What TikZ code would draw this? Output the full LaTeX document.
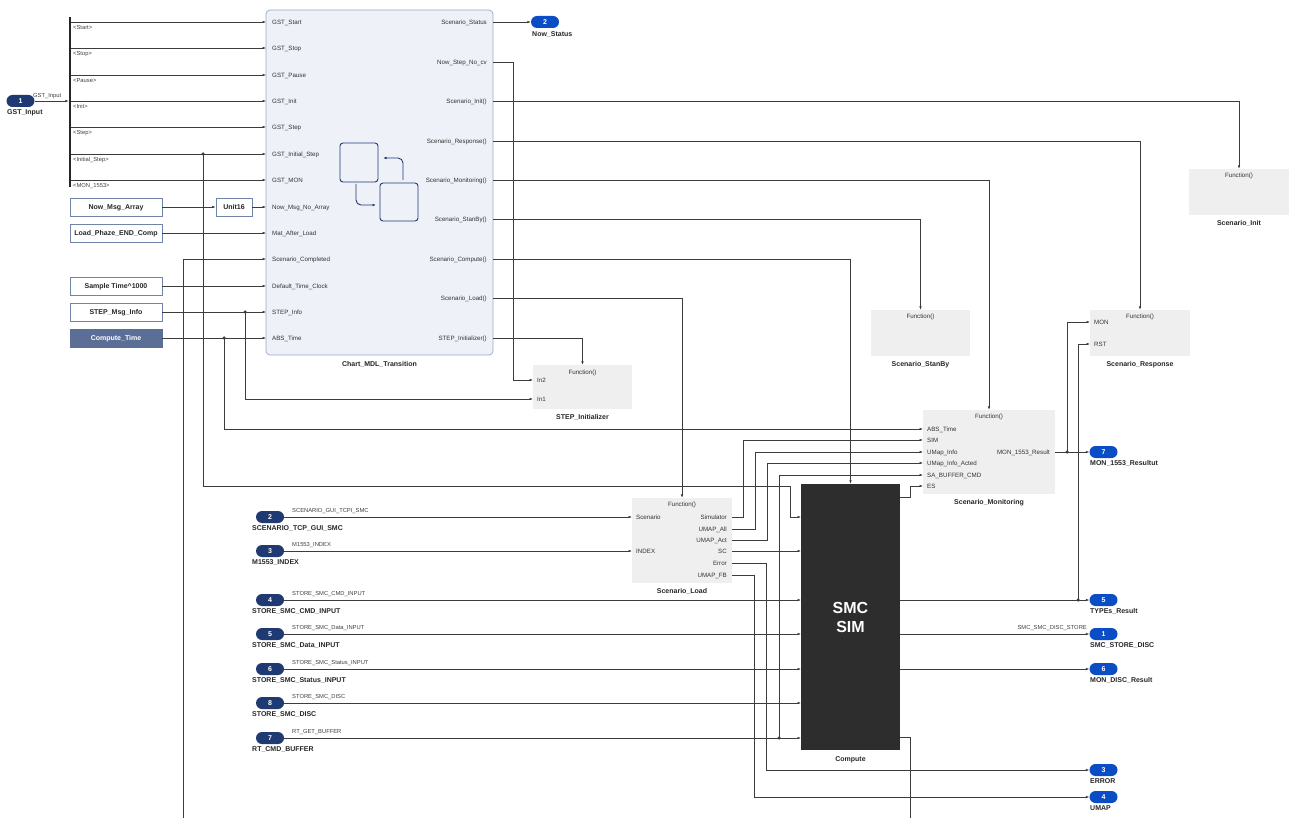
\documentclass[tikz,border=0pt]{standalone}
\usepackage{fontspec}
\setmainfont{Liberation Sans}
\usetikzlibrary{arrows.meta,positioning,calc}

\definecolor{wirecol}{HTML}{3C3C3C}
\definecolor{navy}{HTML}{1F3A73}
\definecolor{outblue}{HTML}{0B4DC4}
\definecolor{chartfill}{HTML}{EEF1F8}
\definecolor{chartedge}{HTML}{9AA7C7}
\definecolor{fngray}{HTML}{EFEFEF}
\definecolor{boxedge}{HTML}{7183A8}
\definecolor{slate}{HTML}{5B6F96}
\definecolor{smcdark}{HTML}{2D2D2D}

\tikzset{
  wire/.style={draw=wirecol, line width=0.6pt},
  arr/.style={-{Latex[length=3.5pt,width=2.6pt]}},
  portlbl/.style={font=\fontsize{6.2}{7}\selectfont, text=black!80, inner sep=0pt},
  siglbl/.style={font=\fontsize{5.8}{7}\selectfont, text=black!75, inner sep=0pt},
  blklbl/.style={font=\fontsize{7}{8}\selectfont\bfseries, text=black!85, inner sep=0pt},
  fnbox/.style={fill=fngray, draw=none, inner sep=0pt},
  fnhead/.style={portlbl, anchor=mid},
  srcbox/.style={draw=boxedge, line width=0.8pt, fill=white, minimum width=92pt,
    minimum height=18pt, font=\fontsize{7}{8}\selectfont\bfseries, text=black!85, inner sep=0pt,
    text height=5pt, text depth=0pt},
  inpill/.style={fill=navy, rounded corners=6pt, minimum width=28pt, minimum height=12pt,
    inner sep=0pt, text=white, font=\fontsize{7}{8}\selectfont\bfseries,
    text height=5pt, text depth=0pt},
  outpill/.style={inpill, fill=outblue},
  dot/.style={circle, fill=wirecol, inner sep=0pt, minimum size=3.5pt},
  icon/.style={draw=navy, line width=0.9pt}
}

\begin{document}
\begin{tikzpicture}[x=1pt,y=-1pt]
\useasboundingbox (0,0) rectangle (1296,818);

% chart block
\node[draw=chartedge, fill=chartfill, rounded corners=4pt, line width=0.7pt,
  minimum width=227pt, minimum height=345pt] (chart) at (379.5,182.5) {};
\node[blklbl, below=6pt of chart] {Chart\_MDL\_Transition};
\draw[icon, rounded corners=3pt] (340,143) rectangle (378,182);
\draw[icon, rounded corners=3pt] (380,183) rectangle (418,221);
\draw[icon, arr, rounded corners=5pt] (403,180) |- (383,158);
\draw[icon, arr, rounded corners=5pt] (356,184) |- (376,205);

\foreach \y/\t [count=\i] in {22/GST\_Start, 48/GST\_Stop, 75/GST\_Pause, 101/GST\_Init,
  127/GST\_Step, 154/GST\_Initial\_Step, 180/GST\_MON, 207/Now\_Msg\_No\_Array,
  233/Mat\_After\_Load, 259/Scenario\_Completed, 286/Default\_Time\_Clock,
  312/STEP\_Info, 338/ABS\_Time} {
  \coordinate (cin\i) at (266,\y);
  \node[portlbl, anchor=mid west] at (272,\y) {\t};
}
\foreach \y/\t [count=\i] in {22/Scenario\_Status, 62/Now\_Step\_No\_cv, 101/Scenario\_Init(),
  141/Scenario\_Response(), 180/Scenario\_Monitoring(), 219/Scenario\_StanBy(),
  259/Scenario\_Compute(), 298/Scenario\_Load(), 338/STEP\_Initializer()} {
  \coordinate (cout\i) at (493,\y);
  \node[portlbl, anchor=mid east] at (487,\y) {\t};
}

% GST input and bus
\node[inpill] (inGST) at (20.5,101) {1};
\node[blklbl, anchor=north west] at (7,109.5) {GST\_Input};
\node[fill=black!85, minimum width=2pt, minimum height=170pt, inner sep=0pt] (bus) at (70,102) {};
\draw[wire, arr] (inGST) -- (bus.west |- inGST);
\node[siglbl, anchor=base west] at (33,97.5) {GST\_Input};
\foreach \y/\t [count=\i] in {22/Start, 48/Stop, 75/Pause, 101/Init, 127/Step,
  154/Initial\_Step, 180/MON\_1553} {
  \draw[wire, arr] (bus.east |- cin\i) -- (cin\i);
  \node[siglbl, anchor=north west] at (73,\y+3.5) {<\t>};
}

% source blocks
\node[srcbox] (nowmsg) at (116,207) {Now\_Msg\_Array};
\node[srcbox, minimum width=36pt] (unit) at (234,207) {Unit16};
\node[srcbox] (loadphz) at (116,233) {Load\_Phaze\_END\_Comp};
\node[srcbox] (samptime) at (116,286) {Sample Time\textasciicircum 1000};
\node[srcbox] (stepmsg) at (116,312) {STEP\_Msg\_Info};
\node[srcbox, fill=slate, draw=slate, text=white] (comptime) at (116,338) {Compute\_Time};
\draw[wire, arr] (nowmsg) -- (unit);
\draw[wire, arr] (unit) -- (cin8);
\draw[wire, arr] (loadphz) -- (cin9);
\draw[wire, arr] (samptime) -- (cin11);
\draw[wire, arr] (stepmsg) -- (cin12);
\draw[wire, arr] (comptime) -- (cin13);
\coordinate (fbLow) at (183,818);
\draw[wire, arr] (fbLow) |- (cin10);

% function blocks
\node[fnbox, minimum width=99pt, minimum height=44pt] (stepini) at (582.5,387) {};
\node[fnhead] at ([yshift=-7pt]stepini.north) {Function()};
\node[blklbl, below=5pt of stepini] {STEP\_Initializer};
\coordinate (stIn2) at (533,380);
\coordinate (stIn1) at (533,399);
\node[portlbl, anchor=mid west] at (537,380) {In2};
\node[portlbl, anchor=mid west] at (537,399) {In1};

\node[fnbox, minimum width=99pt, minimum height=46pt] (stanby) at (920.5,333) {};
\node[fnhead] at ([yshift=-6.5pt]stanby.north) {Function()};
\node[blklbl, below=5.5pt of stanby] {Scenario\_StanBy};

\node[fnbox, minimum width=100pt, minimum height=46pt] (resp) at (1140,333) {};
\node[fnhead] at ([yshift=-6.5pt]resp.north) {Function()};
\node[blklbl, below=5.5pt of resp] {Scenario\_Response};
\coordinate (rsMON) at (1090,322);
\coordinate (rsRST) at (1090,344);
\node[portlbl, anchor=mid west] at (1094,322) {MON};
\node[portlbl, anchor=mid west] at (1094,344) {RST};

\node[fnbox, minimum width=100pt, minimum height=46pt] (init) at (1239,192) {};
\node[fnhead] at ([yshift=-6.5pt]init.north) {Function()};
\node[blklbl, below=5.5pt of init] {Scenario\_Init};

\node[fnbox, minimum width=132pt, minimum height=84pt] (mon) at (989,452) {};
\node[fnhead] at ([yshift=-6pt]mon.north) {Function()};
\node[blklbl, below=5.5pt of mon] {Scenario\_Monitoring};
\foreach \y/\t/\nm in {429/ABS\_Time/monABS, 440/SIM/monSIM, 452/UMap\_Info/monInfo,
  463/UMap\_Info\_Acted/monActed, 475/SA\_BUFFER\_CMD/monSA, 486/ES/monES} {
  \coordinate (\nm) at (923,\y);
  \node[portlbl, anchor=mid west] at (927,\y) {\t};
}
\coordinate (monOut) at (1055,452);
\node[portlbl, anchor=mid east] at (1050,452) {MON\_1553\_Result};

\node[fnbox, minimum width=100pt, minimum height=85pt] (load) at (682,540.5) {};
\node[fnhead] at ([yshift=-6.5pt]load.north) {Function()};
\node[blklbl, below=5.5pt of load] {Scenario\_Load};
\coordinate (ldScen) at (632,517);
\coordinate (ldIdx) at (632,551);
\node[portlbl, anchor=mid west] at (636,517) {Scenario};
\node[portlbl, anchor=mid west] at (636,551) {INDEX};
\foreach \y/\t/\nm in {517/Simulator/ldSim, 529/UMAP\_All/ldAll, 540/UMAP\_Act/ldAct,
  551/SC/ldSC, 563/Error/ldErr, 575/UMAP\_FB/ldFB} {
  \coordinate (\nm) at (732,\y);
  \node[portlbl, anchor=mid east] at (727,\y) {\t};
}

% compute block
\node[fill=smcdark, minimum width=99pt, minimum height=266pt, inner sep=0pt, text=white,
  font=\fontsize{16}{19}\selectfont\bfseries, align=center] (compute) at (850.5,617) {SMC\\SIM};
\node[blklbl, below=6pt of compute] {Compute};
\foreach \y [count=\i] in {517,551,600,634,669,703,738}
  \coordinate (cmpIn\i) at (801,\y);
\coordinate (cmpES) at (900,497);
\foreach \y [count=\i] in {600,634,669,737}
  \coordinate (cmpOut\i) at (900,\y);

% chart outputs
\node[outpill] (outNow) at (545,22) {2};
\node[blklbl, anchor=north west] at (532,31.5) {Now\_Status};
\draw[wire, arr] (cout1) -- (outNow);
\draw[wire, arr] (cout2) -- (513,62) |- (stIn2);
\draw[wire, arr] (cout3) -| (init.north);
\draw[wire, arr] (cout4) -| (resp.north);
\draw[wire, arr] (cout5) -| (mon.north);
\draw[wire, arr] (cout6) -| (stanby.north);
\draw[wire, arr] (cout7) -| (compute.north);
\draw[wire, arr] (cout8) -| (load.north);
\draw[wire, arr] (cout9) -| (stepini.north);

% junctions from the left side
\coordinate (jStep) at (245,312);
\coordinate (jTime) at (224,338);
\coordinate (jInit) at (203,154);
\draw[wire, arr] (jStep) |- (stIn1);
\draw[wire, arr] (jTime) |- (monABS);
\draw[wire, arr] (jInit) |- (790,486) |- (cmpIn1);
\foreach \j in {jStep,jTime,jInit}
  \node[dot] at (\j) {};

% inports
\foreach \n/\y/\sig/\name [count=\i] in {2/517/SCENARIO\_GUI\_TCPI\_SMC/SCENARIO\_TCP\_GUI\_SMC,
  3/551/M1553\_INDEX/M1553\_INDEX, 4/600/STORE\_SMC\_CMD\_INPUT/STORE\_SMC\_CMD\_INPUT,
  5/634/STORE\_SMC\_Data\_INPUT/STORE\_SMC\_Data\_INPUT,
  6/669/STORE\_SMC\_Status\_INPUT/STORE\_SMC\_Status\_INPUT,
  8/703/STORE\_SMC\_DISC/STORE\_SMC\_DISC, 7/738/RT\_GET\_BUFFER/RT\_CMD\_BUFFER} {
  \node[inpill] (inp\i) at (270,\y) {\n};
  \node[blklbl, anchor=north west] at (252,\y+8.5) {\name};
  \node[siglbl, anchor=base west] at (292,\y-5) {\sig};
}
\draw[wire, arr] (inp1) -- (ldScen);
\draw[wire, arr] (inp2) -- (ldIdx);
\foreach \i in {3,...,7}
  \draw[wire, arr] (inp\i) -- (cmpIn\i);

% scenario load outputs
\draw[wire, arr] (ldSim) -- ++(11,0) |- (monSIM);
\draw[wire, arr] (ldAll) -- ++(23,0) |- (monInfo);
\draw[wire, arr] (ldAct) -- ++(35,0) |- (monActed);
\draw[wire, arr] (ldSC) -- (cmpIn2);
\coordinate (jRT) at (779,738);
\draw[wire, arr] (jRT) |- (monSA);
\node[dot] at (jRT) {};

% outports
\node[outpill] (outMon) at (1103.5,452) {7};
\node[blklbl, anchor=north west] at (1090,460.5) {MON\_1553\_Resultut};
\node[outpill] (outTypes) at (1103.5,600) {5};
\node[blklbl, anchor=north west] at (1090,608.5) {TYPEs\_Result};
\node[outpill] (outStore) at (1103.5,634) {1};
\node[blklbl, anchor=north west] at (1090,642.5) {SMC\_STORE\_DISC};
\node[outpill] (outDisc) at (1103.5,669) {6};
\node[blklbl, anchor=north west] at (1090,677.5) {MON\_DISC\_Result};
\node[outpill] (outErr) at (1103.5,770) {3};
\node[blklbl, anchor=north west] at (1090,778.5) {ERROR};
\node[outpill] (outUmap) at (1103.5,797) {4};
\node[blklbl, anchor=north west] at (1090,805.5) {UMAP};

\draw[wire, arr] (ldErr) -- ++(34,0) |- (outErr);
\draw[wire, arr] (ldFB) -- ++(22,0) |- (outUmap);
\draw[wire, arr] (cmpES) -- ++(10,0) |- (monES);
\coordinate (cmpLow) at (910,818);
\draw[wire] (cmpOut4) -| (cmpLow);
\draw[wire, arr] (monOut) -- (outMon);
\draw[wire, arr] (cmpOut1) -- (outTypes);
\draw[wire, arr] (cmpOut2) -- (outStore);
\node[siglbl, anchor=base east] at (1087,629) {SMC\_SMC\_DISC\_STORE};
\draw[wire, arr] (cmpOut3) -- (outDisc);
\coordinate (jMon) at (1067,452);
\coordinate (jTypes) at (1078,600);
\draw[wire, arr] (jMon) |- (rsMON);
\draw[wire, arr] (jTypes) |- (rsRST);
\node[dot] at (jMon) {};
\node[dot] at (jTypes) {};
\end{tikzpicture}
\end{document}
